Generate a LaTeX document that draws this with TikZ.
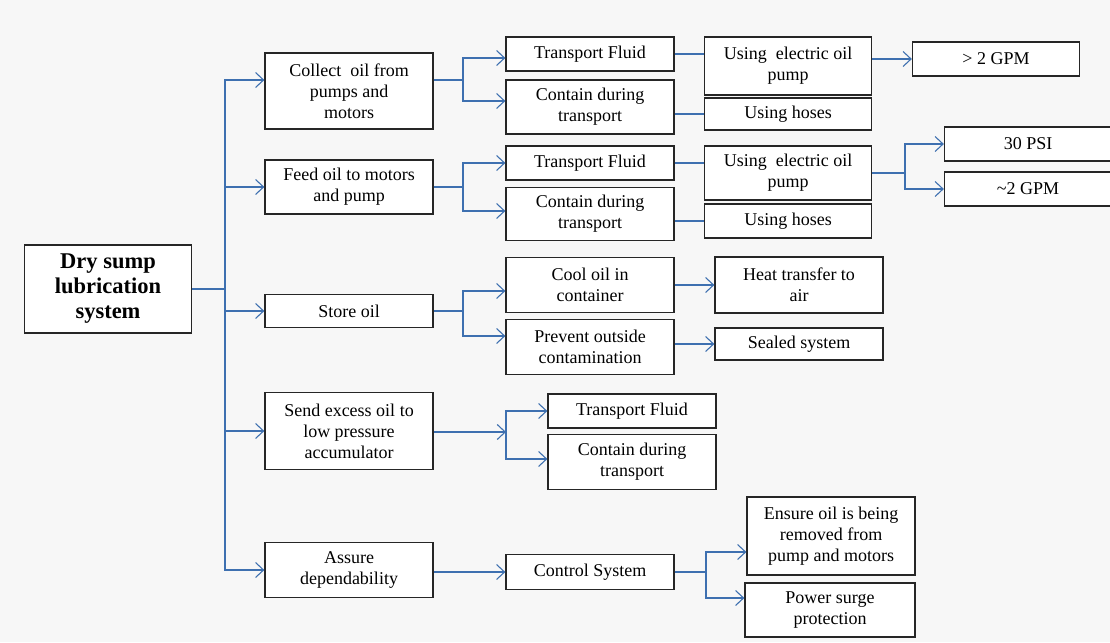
\documentclass[tikz,border=0pt]{standalone}
\usepackage{fontspec}
\setmainfont{Liberation Serif}
\usetikzlibrary{arrows.meta}
\definecolor{linkblue}{RGB}{62,112,176}

\begin{document}
\begin{tikzpicture}[x=1pt,y=-1pt]
\tikzstyle{box}=[draw=black!85,line width=1.3pt,fill=white,align=center,inner sep=1pt,minimum width=168pt,font=\fontsize{18}{21}\selectfont]
\tikzstyle{link}=[draw=linkblue,line width=1.1pt]
\tikzstyle{arr}=[link,-{Straight Barb[length=8pt,width=15pt,line width=1.1pt]}]

\useasboundingbox [fill=black!3] (0,0) rectangle (1110,642);

% ========= root and first level
\node (root) [box,minimum width=167pt,minimum height=88pt,font=\fontsize{22.5}{25}\selectfont\bfseries] at (108,289) {Dry sump\\lubrication\\system};

\node (collect) [box,minimum height=76pt] at (349,91) {Collect~ oil from\\pumps and\\motors};
\node (feed) [box,minimum height=54pt] at (349,187) {Feed oil to motors\\and pump};
\node (store) [box,minimum height=33pt] at (349,311) {Store oil};
\node (send) [box,minimum height=77pt] at (349,431) {Send excess oil to\\low pressure\\accumulator};
\node (assure) [box,minimum height=55pt] at (349,570) {Assure\\dependability};

% ========= collect / feed
\node (tf1) [box,minimum height=34pt] at (590,54) {Transport Fluid};
\node (cd1) [box,minimum height=54pt] at (590,107) {Contain during\\transport};
\node (ue1) [box,minimum width=167pt,minimum height=58pt] at (788,66) {Using~ electric oil\\pump};
\node (uh1) [box,minimum width=167pt,minimum height=32pt] at (788,114) {Using hoses};
\node (gpm1) [box,minimum width=167pt,minimum height=34pt] at (996,59) {\textgreater{} 2 GPM};

\node (tf2) [box,minimum height=34pt] at (590,163) {Transport Fluid};
\node (cd2) [box,minimum height=53pt] at (590,214) {Contain during\\transport};
\node (ue2) [box,minimum width=167pt,minimum height=54pt] at (788,173) {Using~ electric oil\\pump};
\node (uh2) [box,minimum width=167pt,minimum height=34pt] at (788,221) {Using hoses};
\node (psi) [box,minimum width=167pt,minimum height=34pt] at (1028,144) {30 PSI};
\node (gpm2) [box,minimum width=167pt,minimum height=34pt] at (1028,189) {\textasciitilde 2 GPM};

% ========= store
\node (cool) [box,minimum height=55pt] at (590,285) {Cool oil in\\container};
\node (prevent) [box,minimum height=55pt] at (590,347) {Prevent outside\\contamination};
\node (heat) [box,minimum height=56pt] at (799,285) {Heat transfer to\\air};
\node (sealed) [box,minimum height=32pt] at (799,344) {Sealed system};

% ========= send / assure
\node (tf3) [box,minimum height=34pt] at (632,411) {Transport Fluid};
\node (cd3) [box,minimum height=55pt] at (632,462) {Contain during\\transport};
\node (control) [box,minimum height=35pt] at (590,572) {Control System};
\node (ensure) [box,minimum height=78pt] at (831,536) {Ensure oil is being\\removed from\\pump and motors};
\node (power) [box,minimum width=170pt,minimum height=54pt] at (830,610) {Power surge\\protection};

% ====== connections
\coordinate (trunk) at (225,289);
\draw [link] (root) -- (trunk);
\draw [arr] (trunk) |- ([yshift=11pt]collect.west);
\draw [arr] (trunk) |- (feed.west);
\draw [arr] (trunk) |- (store.west);
\draw [arr] (trunk) |- (send.west);
\draw [arr] (trunk) |- (assure.west);

\coordinate (j1) at (463,80);
\draw [link] (collect.east |- j1) -- (j1);
\draw [arr] (j1) |- ([yshift=-4pt]tf1.west);
\draw [arr] (j1) |- ([yshift=6pt]cd1.west);
\draw [link] (tf1) -- (tf1 -| ue1.west);
\draw [link] (uh1 -| cd1.east) -- (uh1);
\draw [arr] (ue1.east |- gpm1) -- (gpm1);

\coordinate (j2) at (463,187);
\draw [link] (feed) -- (j2);
\draw [arr] (j2) |- (tf2.west);
\draw [arr] (j2) |- ([yshift=3pt]cd2.west);
\draw [link] (tf2) -- (tf2 -| ue2.west);
\draw [link] (uh2 -| cd2.east) -- (uh2);
\coordinate (j3) at (905,173);
\draw [link] (ue2) -- (j3);
\draw [arr] (j3) |- (psi.west);
\draw [arr] (j3) |- (gpm2.west);

\coordinate (j4) at (463,311);
\draw [link] (store) -- (j4);
\draw [arr] (j4) |- ([yshift=-6pt]cool.west);
\draw [arr] (j4) |- ([yshift=11pt]prevent.west);
\draw [arr] (cool.east |- heat) -- (heat);
\draw [arr] (prevent.east |- sealed) -- (sealed);

\coordinate (j5) at (506,432);
\draw [arr] (send.east |- j5) -- (j5);
\draw [arr] (j5) |- (tf3.west);
\draw [arr] (j5) |- ([yshift=3pt]cd3.west);

\draw [arr] (assure.east |- control) -- (control);
\coordinate (j6) at (706,572);
\draw [link] (control) -- (j6);
\draw [arr] (j6) |- ([yshift=-16pt]ensure.west);
\draw [arr] (j6) |- ([yshift=12pt]power.west);
\end{tikzpicture}
\end{document}
